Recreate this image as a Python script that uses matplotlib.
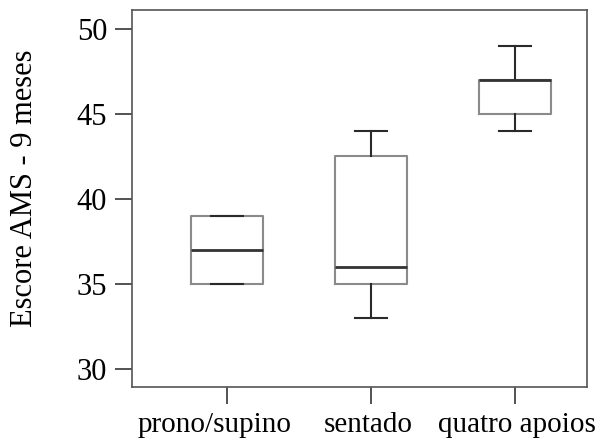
import matplotlib
matplotlib.use("Agg")
import matplotlib.pyplot as plt
from matplotlib.transforms import ScaledTranslation

categories = ["prono/supino", "sentado", "quatro apoios"]
q1 = [35, 35, 45]
med = [37, 36, 47]
q3 = [39, 42.5, 47]
whislo = [35, 33, 44]
whishi = [39, 44, 49]
yticks = [30, 35, 40, 45, 50]

plt.rcParams['font.family'] = ['Liberation Serif', 'DejaVu Serif']

fig = plt.figure(figsize=(6.10, 4.43), dpi=100)
ax = fig.add_axes([0.2164, 0.1264, 0.7459, 0.851])

stats = []
for i, c in enumerate(categories):
    stats.append(dict(label=c, q1=q1[i], med=med[i], q3=q3[i],
                      whislo=whislo[i], whishi=whishi[i], fliers=[]))

ax.bxp(stats, positions=[1, 2, 3], widths=0.5, showfliers=False,
       boxprops=dict(color='#8a8a8a', linewidth=1.5),
       medianprops=dict(color='#333333', linewidth=2.0),
       whiskerprops=dict(color='#2a2a2a', linewidth=1.5),
       capprops=dict(color='#2a2a2a', linewidth=1.5),
       capwidths=0.22)

ax.set_xlim(0.34, 3.5)
ax.set_ylim(28.94, 51.1)
ax.set_yticks(yticks)
ax.set_yticklabels([str(t) for t in yticks])
ax.set_xticks([1, 2, 3])
ax.set_xticklabels(categories)

for s in ax.spines.values():
    s.set_color('#555555')
    s.set_linewidth(1.2)

ax.tick_params(axis='y', length=12, width=1.3, color='#444444', labelsize=22, pad=6)
ax.tick_params(axis='x', length=12, width=1.3, color='#444444', labelsize=21, pad=6)

# small horizontal offsets of the x labels as in the reference
offsets = [-12, -3, 2]
for lab, dx in zip(ax.get_xticklabels(), offsets):
    lab.set_transform(lab.get_transform() + ScaledTranslation(dx / 100, 0, fig.dpi_scale_trans))

ax.set_ylabel("Escore AMS - 9 meses", fontsize=22)
ax.yaxis.set_label_coords(-0.205, 0.528)

fig.savefig("out.png", dpi=100)
